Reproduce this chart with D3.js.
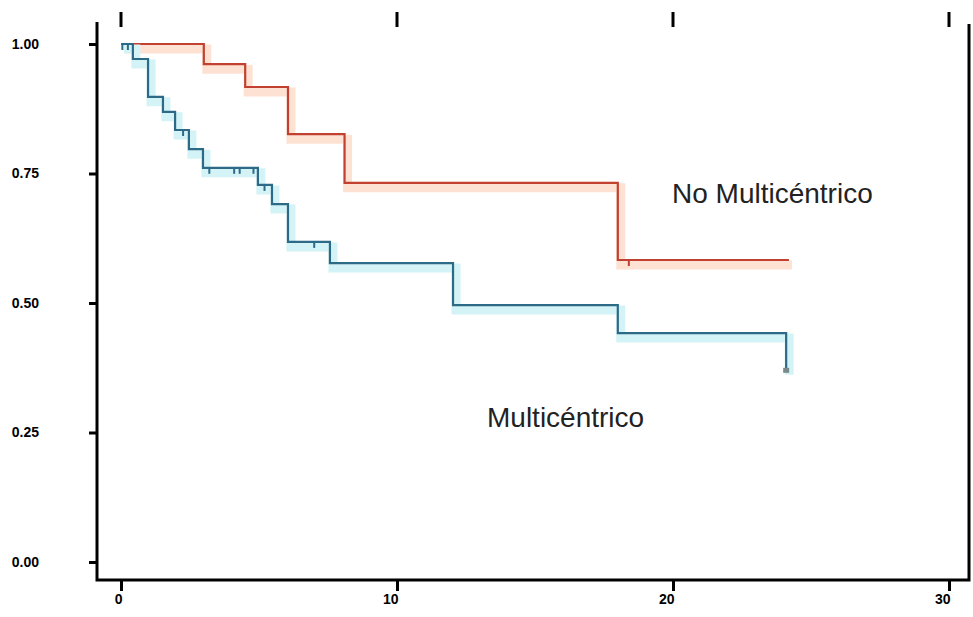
<!DOCTYPE html>
<html>
<meta charset="utf-8">
<style>
  body { margin: 0; background: #fff; }
  .axis text { font-family: "Liberation Sans", Arial, sans-serif; font-size: 14px; font-weight: bold; fill: #000; }
  .axis line { stroke: #000; stroke-width: 3px; }
  .axis path { display: none; }
  .label { font-family: "Liberation Sans", Arial, sans-serif; font-size: 28px; fill: #222; }
</style>
<svg width="973" height="617"></svg>
<script src="https://d3js.org/d3.v7.min.js"></script>
<script>
  // ticks
  var xTicks = [0, 10, 20, 30];
  var yTicks = [0, 0.25, 0.5, 0.75, 1];

  // No Multicéntrico (Kaplan-Meier steps)
  var redTimes = [0, 3.0, 4.5, 6.05, 8.1, 18.0, 24.2];
  var redSurv  = [1, 0.961, 0.917, 0.826, 0.732, 0.583, 0.583];
  var redCensor = [[18.4, 0.583]];

  // Multicéntrico
  var blueTimes = [0, 0.43, 0.98, 1.52, 1.96, 2.46, 2.97, 4.96, 5.47, 6.05, 7.57, 12.03, 18.0, 24.1, 24.1];
  var blueSurv  = [1, 0.971, 0.898, 0.869, 0.834, 0.797, 0.761, 0.728, 0.691, 0.618, 0.577, 0.496, 0.442, 0.442, 0.371];
  var blueCensor = [[0.05, 1], [0.25, 1], [2.25, 0.834], [3.2, 0.761], [4.1, 0.761], [4.3, 0.761], [4.8, 0.761], [5.2, 0.728], [7.0, 0.618]];

  var svg = d3.select("svg");

  var x = d3.scaleLinear().domain([0, 30]).range([121, 949]);
  var y = d3.scaleLinear().domain([0, 1]).range([562, 44]);

  var frameL = 97, frameB = 580, frameR = 969, frameT = 22;

  // frame (left, bottom, right)
  svg.append("path")
    .attr("d", "M" + frameL + "," + frameT + "V" + frameB + "H" + frameR + "V" + (frameT + 2))
    .attr("fill", "none").attr("stroke", "#000").attr("stroke-width", 3);

  // y axis
  var yAxis = svg.append("g").attr("class", "axis")
    .attr("transform", "translate(" + frameL + ",0)")
    .call(d3.axisLeft(y).tickValues(yTicks).tickSize(8).tickFormat(d3.format(".2f")));
  yAxis.selectAll("text").attr("text-anchor", "end").attr("x", -58);

  // bottom axis
  var xAxis = svg.append("g").attr("class", "axis")
    .attr("transform", "translate(0," + frameB + ")")
    .call(d3.axisBottom(x).tickValues(xTicks).tickSize(11).tickFormat(d3.format("d")));
  xAxis.selectAll("text").attr("text-anchor", "end").attr("x", 1).attr("y", 14).attr("dy", "0.71em");

  // top ticks
  svg.append("g").selectAll("line").data(xTicks).enter().append("line")
    .attr("x1", function (d) { return x(d); }).attr("x2", function (d) { return x(d); })
    .attr("y1", 12).attr("y2", 27)
    .attr("stroke", "#000").attr("stroke-width", 3);

  var line = d3.line().curve(d3.curveStepAfter)
    .x(function (d) { return x(d[0]); })
    .y(function (d) { return y(d[1]); });

  function curve(times, surv, color, halo, censor) {
    var pts = times.map(function (t, i) { return [t, surv[i]]; });
    svg.append("path").datum(pts)
      .attr("d", line)
      .attr("transform", "translate(3,5)")
      .attr("fill", "none").attr("stroke", halo).attr("stroke-width", 9);
    svg.append("path").datum(pts)
      .attr("d", line)
      .attr("fill", "none").attr("stroke", color).attr("stroke-width", 2.2);
    svg.append("g").selectAll("line").data(censor).enter().append("line")
      .attr("x1", function (d) { return x(d[0]); }).attr("x2", function (d) { return x(d[0]); })
      .attr("y1", function (d) { return y(d[1]); }).attr("y2", function (d) { return y(d[1]) + 6; })
      .attr("stroke", color).attr("stroke-width", 2);
  }

  curve(redTimes, redSurv, "#c2402f", "#fde2d4", redCensor);
  curve(blueTimes, blueSurv, "#2d6a88", "#d4f3f6", blueCensor);

  // end marker on blue curve
  svg.append("rect")
    .attr("x", x(24.1) - 3).attr("y", y(0.371) - 2)
    .attr("width", 6).attr("height", 5).attr("fill", "#7a8a8a");

  svg.append("text").attr("class", "label").attr("x", 672).attr("y", 203).text("No Multicéntrico");
  svg.append("text").attr("class", "label").attr("x", 487).attr("y", 427).text("Multicéntrico");
</script>
</html>
